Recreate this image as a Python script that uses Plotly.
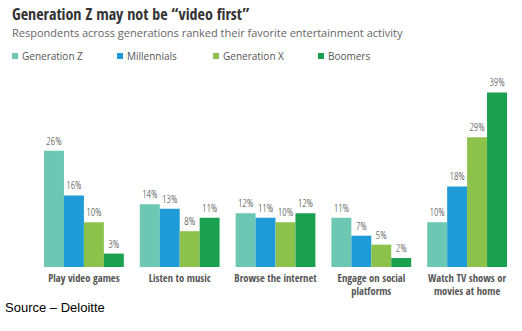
import plotly.graph_objects as go

categories = ["Play video games", "Listen to music", "Browse the internet",
              "Engage on social<br>platforms", "Watch TV shows or<br>movies at home"]
series_names = ["Generation Z", "Millennials", "Generation X", "Boomers"]
gen_z = [26, 14, 12, 11, 10]
millennials = [16, 13, 11, 7, 18]
gen_x = [10, 8, 10, 5, 29]
boomers = [3, 11, 12, 2, 39]
colors = ["#6cc7b3", "#1f9cd8", "#8cc24c", "#1aa04e"]

values = [gen_z, millennials, gen_x, boomers]

W, H = 522, 331
L, R, T, B = 36, 7, 88, 64
pw, ph = W - L - R, H - T - B

def px(x):
    return (x - L) / pw

def py(y):
    return (H - B - y) / ph

COND = "Open Sans Condensed, Noto Sans Condensed, Roboto Condensed, Liberation Sans Narrow, Roboto"
COND_LIGHT = ("Open Sans Condensed Light, Noto Sans Condensed, Noto Sans ExtraCondensed, "
              "Roboto Condensed, DejaVu Sans Condensed, Roboto")

fig = go.Figure()
for name, vals, col in zip(series_names, values, colors):
    fig.add_trace(go.Bar(
        x=categories, y=vals, name=name, marker=dict(color=col, line=dict(width=0)),
        text=[f"{v}%" for v in vals], textposition="outside", cliponaxis=False,
        constraintext="none",
        outsidetextfont=dict(family=COND_LIGHT, size=11, color="#444444", weight="normal"),
        textfont=dict(family=COND_LIGHT, size=11, color="#444444", weight="normal"),
        showlegend=False,
    ))

# legend (manual, small squares)
leg_sq = [12, 117, 213, 318]
shapes = []
annotations = []
for name, col, x0 in zip(series_names, colors, leg_sq):
    shapes.append(dict(type="rect", xref="paper", yref="paper",
                       x0=px(x0), x1=px(x0 + 6), y0=py(59), y1=py(53),
                       fillcolor=col, line=dict(width=0)))
    annotations.append(dict(text=name, xref="paper", yref="paper",
                            x=px(x0 + 8), y=py(56), xanchor="left", yanchor="middle",
                            showarrow=False,
                            font=dict(family="Open Sans", size=10, color="#555555")))

annotations.append(dict(text="<b>Generation Z may not be \u201cvideo first\u201d</b>",
                        xref="paper", yref="paper", x=px(10), y=py(14),
                        xanchor="left", yanchor="middle", showarrow=False,
                        font=dict(family=COND, size=16, color="#333333")))
annotations.append(dict(text="Respondents across generations ranked their favorite entertainment activity",
                        xref="paper", yref="paper", x=px(10), y=py(32),
                        xanchor="left", yanchor="middle", showarrow=False,
                        font=dict(family="Open Sans", size=11, color="#666666")))
annotations.append(dict(text="Source \u2013 Deloitte",
                        xref="paper", yref="paper", x=px(3), y=py(307),
                        xanchor="left", yanchor="middle", showarrow=False,
                        font=dict(family="Arial, Liberation Sans", size=13, color="#000000")))

fig.update_layout(
    width=W, height=H,
    margin=dict(l=L, r=R, t=T, b=B, pad=0, autoexpand=False),
    paper_bgcolor="white", plot_bgcolor="white",
    barmode="group", bargap=0.167, bargroupgap=0,
    shapes=shapes, annotations=annotations,
    xaxis=dict(showgrid=False, zeroline=False, showline=False, ticks="",
               tickangle=0, automargin=False, ticklabelstandoff=3,
               tickfont=dict(family=COND, size=10.5, color="#555555", weight="bold")),
    yaxis=dict(range=[0, 40], visible=False, showgrid=False, zeroline=False),
    font=dict(family="Open Sans"),
)

fig.write_html("out.html")
